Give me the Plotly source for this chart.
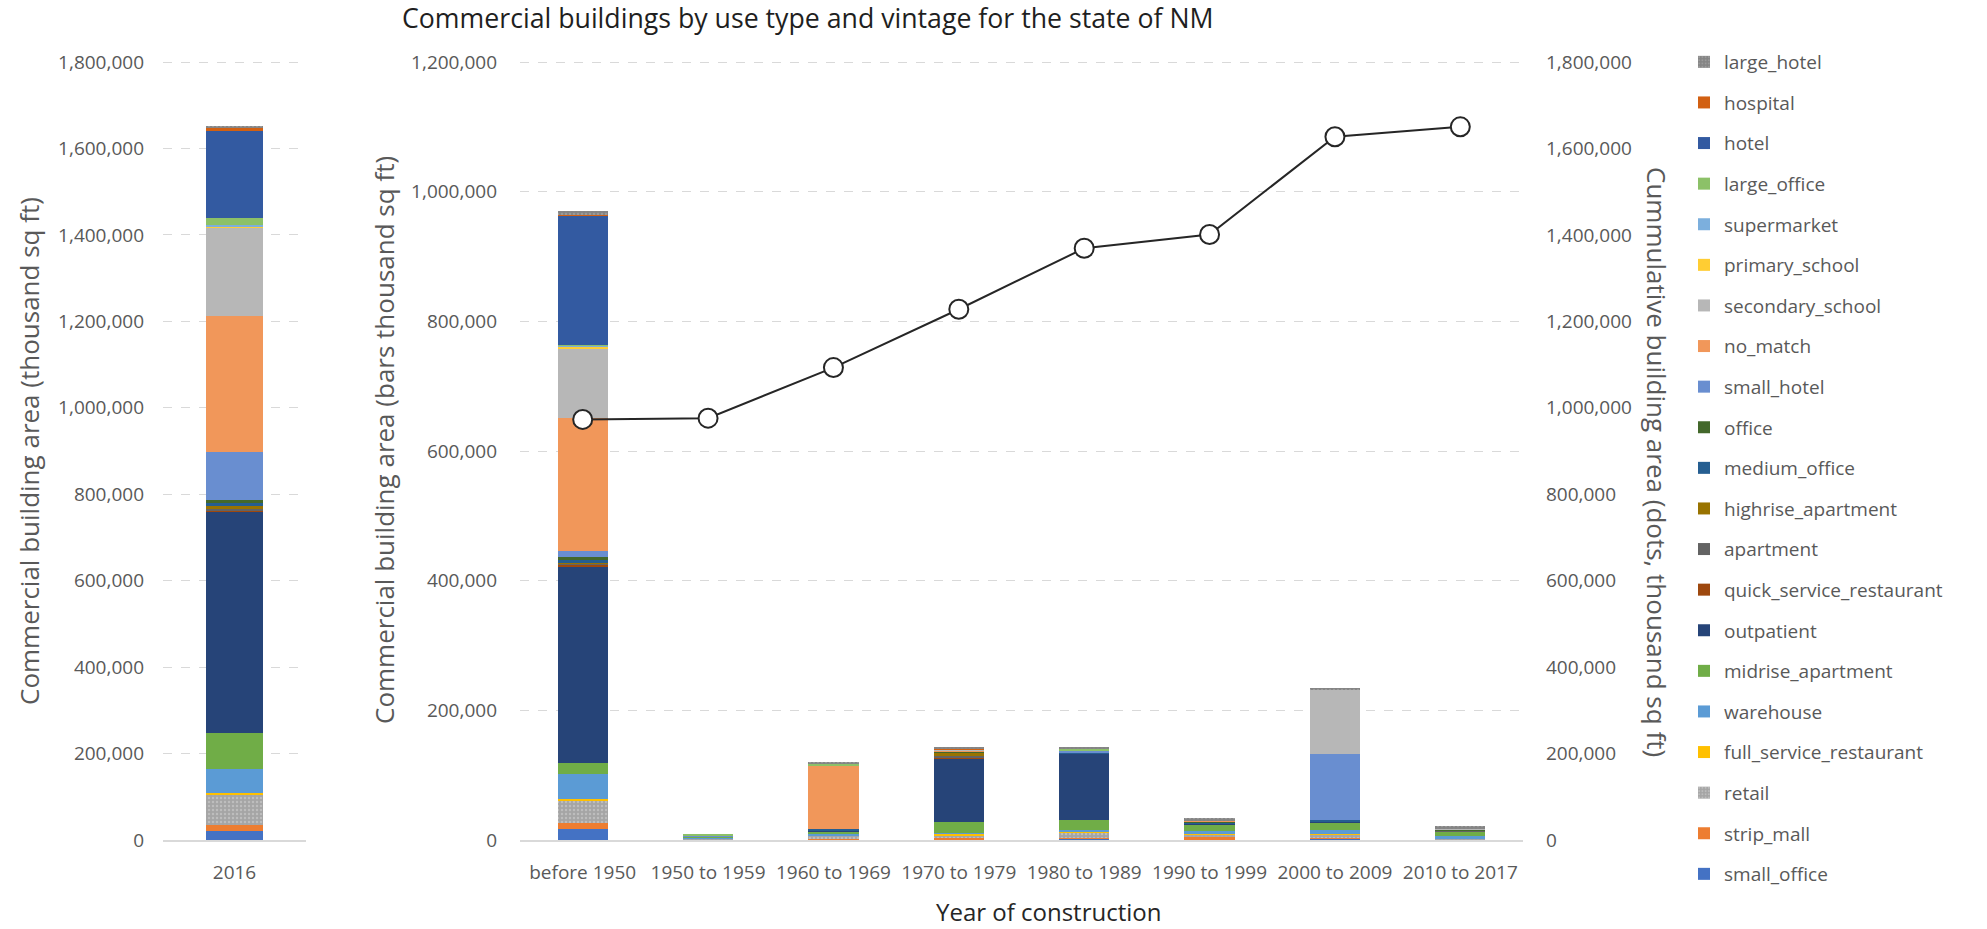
import plotly.graph_objects as go

# Construction vintages (x categories of the main panel)
vintages = ["before 1950", "1950 to 1959", "1960 to 1969", "1970 to 1979",
            "1980 to 1989", "1990 to 1999", "2000 to 2009", "2010 to 2017"]

# Floor area by use type and vintage (thousand sq ft), stacking order bottom -> top
small_office = [16500, 500, 0, 500, 3000, 500, 3000, 1000]
strip_mall = [9000, 0, 1000, 4000, 500, 5000, 500, 0]
retail = [35000, 2000, 6000, 2500, 8500, 2500, 5000, 2000]
full_service_restaurant = [3000, 0, 500, 3000, 500, 500, 500, 0]
warehouse = [38000, 1000, 3000, 1000, 3000, 5500, 6000, 3000]
midrise_apartment = [17000, 1500, 2500, 17000, 15000, 10000, 12000, 6500]
outpatient = [304000, 0, 2000, 98000, 103000, 1500, 2000, 1000]
quick_service_restaurant = [3000, 0, 0, 2000, 0, 0, 0, 0]
apartment = [1000, 0, 0, 1500, 0, 0, 0, 500]
highrise_apartment = [1000, 0, 0, 5000, 0, 0, 0, 0]
medium_office = [5000, 0, 1500, 1000, 2000, 1000, 2000, 0]
office = [4000, 0, 0, 1000, 0, 2500, 0, 2500]
small_hotel = [9000, 2000, 0, 0, 2000, 0, 101000, 0]
no_match = [206000, 0, 99000, 1000, 0, 500, 0, 0]
secondary_school = [107000, 0, 0, 1500, 0, 0, 100000, 2000]
primary_school = [2000, 0, 0, 0, 0, 0, 0, 0]
supermarket = [2000, 0, 0, 0, 1000, 0, 0, 0]
large_office = [1000, 2000, 2000, 0, 3000, 0, 0, 0]
hotel = [200000, 0, 0, 0, 0, 0, 0, 0]
hospital = [1000, 0, 0, 2000, 0, 0, 0, 0]
large_hotel = [6000, 0, 3000, 1500, 2000, 4500, 3000, 3000]

# 2016 stock by use type (same order as above)
area_2016 = [20600, 13700, 71000, 3000, 55000, 84000, 512000, 4000, 3000, 6000,
             8000, 6000, 112000, 313000, 206000, 2000, 3000, 16000, 203000, 7000, 3000]

# Cumulative building area by vintage (right axis)
cumulative = [973000, 976000, 1093000, 1228000, 1369000, 1401000, 1627000, 1650000]

use_types = ["small_office", "strip_mall", "retail", "full_service_restaurant", "warehouse",
             "midrise_apartment", "outpatient", "quick_service_restaurant", "apartment",
             "highrise_apartment", "medium_office", "office", "small_hotel", "no_match",
             "secondary_school", "primary_school", "supermarket", "large_office", "hotel",
             "hospital", "large_hotel"]
type_values = [small_office, strip_mall, retail, full_service_restaurant, warehouse,
               midrise_apartment, outpatient, quick_service_restaurant, apartment,
               highrise_apartment, medium_office, office, small_hotel, no_match,
               secondary_school, primary_school, supermarket, large_office, hotel,
               hospital, large_hotel]
type_colors = ["#4472C4", "#ED7D31", "#A5A5A5", "#FFC000", "#5B9BD5", "#70AD47", "#264478",
               "#9E480E", "#636363", "#997300", "#255E91", "#43682B", "#698ED0", "#F1975A",
               "#B7B7B7", "#FFCD33", "#7CAFDD", "#8CC168", "#335AA1", "#D26012", "#848484"]
textured = {"retail": "#BDBDBD", "large_hotel": "#9A9A9A"}

FONT = "Open Sans"
TICK_GREY = "#595959"
GRID = "#D9D9D9"
W, H = 1987, 929

fig = go.Figure()

n_types = len(use_types)
for i, (name, vals, col, v16) in enumerate(zip(use_types, type_values, type_colors, area_2016)):
    marker = dict(color=col, line=dict(width=0))
    if name in textured:
        marker["pattern"] = dict(shape=".", fgcolor=textured[name], bgcolor=col,
                                 size=4, solidity=0.3)
    rank = n_types - i  # top of the stack listed first
    # 2016 stock panel
    fig.add_trace(go.Bar(x=["2016"], y=[v16], name=name, marker=marker,
                         xaxis="x", yaxis="y", legendgroup=name, legendrank=rank,
                         showlegend=False))
    # vintage panel
    fig.add_trace(go.Bar(x=vintages, y=vals, name=name, marker=marker,
                         xaxis="x2", yaxis="y2", legendgroup=name, legendrank=rank,
                         showlegend=True))

fig.add_trace(go.Scatter(
    x=vintages, y=cumulative, xaxis="x2", yaxis="y3", mode="lines+markers",
    line=dict(color="#262626", width=2),
    marker=dict(size=19, color="white", line=dict(color="#262626", width=2)),
    showlegend=False, name="cumulative"))

# plot area: value 0 at 840 px, top gridline at 62 px
y_bot = 1 - 840 / H
y_top = 1 - 60 / H
pad = (840 - 60) / (840 - 62)  # small headroom so the top gridline is drawn

tickfont = dict(family=FONT, size=19, color=TICK_GREY)
yaxis_common = dict(tickformat=",", dtick=200000, tick0=0, showgrid=True, gridcolor=GRID,
                    griddash="dash", gridwidth=1, zeroline=False, ticks="", showline=False,
                    tickfont=tickfont, automargin=False)
xaxis_common = dict(showline=True, linecolor=GRID, linewidth=1.5, ticks="",
                    tickfont=tickfont, showgrid=False, ticklabelstandoff=14,
                    automargin=False)

axis_title_font = dict(family=FONT, size=26, color=TICK_GREY)

fig.update_layout(
    template="none",
    width=W, height=H,
    margin=dict(l=0, r=0, t=0, b=0, autoexpand=False),
    paper_bgcolor="white", plot_bgcolor="white",
    barmode="stack", bargap=0.6,
    font=dict(family=FONT, color=TICK_GREY),
    xaxis=dict(domain=[163 / W, 306 / W], anchor="y", **xaxis_common),
    yaxis=dict(domain=[y_bot, y_top], range=[0, 1800000 * pad], anchor="x",
               ticklabelstandoff=18, **yaxis_common),
    xaxis2=dict(domain=[520 / W, 1523 / W], anchor="y2", **xaxis_common),
    yaxis2=dict(domain=[y_bot, y_top], range=[0, 1200000 * pad], anchor="x2",
                ticklabelstandoff=22, **yaxis_common),
    yaxis3=dict(overlaying="y2", side="right", anchor="x2", range=[0, 1800000 * pad],
                tickformat=",", dtick=200000, showgrid=False, zeroline=False, ticks="",
                showline=False, tickfont=tickfont, ticklabelstandoff=22, automargin=False),
    legend=dict(x=1684 / W, y=1 - 43 / H, xanchor="left", yanchor="top",
                traceorder="grouped", tracegroupgap=12.9,
                font=dict(family=FONT, size=19, color=TICK_GREY),
                bgcolor="rgba(0,0,0,0)", borderwidth=0),
    showlegend=True,
)

annotations = [
    dict(text="Commercial buildings by use type and vintage for the state of NM",
         x=808 / W, y=1 - 18 / H, font=dict(family=FONT, size=26.7, color="#1F1F1F")),
    dict(text="Commercial building area (thousand sq ft)", x=29 / W, y=1 - 451 / H,
         textangle=-90, font=axis_title_font),
    dict(text="Commercial building area (bars thousand sq ft)", x=384 / W, y=1 - 440 / H,
         textangle=-90, font=axis_title_font),
    dict(text="Cummulative building area (dots, thousand sq ft)", x=1657 / W, y=1 - 462 / H,
         textangle=90, font=axis_title_font),
    dict(text="Year of construction", x=1048 / W, y=1 - 911 / H,
         font=dict(family=FONT, size=24, color="#262626")),
]
for a in annotations:
    a.update(xref="paper", yref="paper", showarrow=False, xanchor="center", yanchor="middle")
fig.update_layout(annotations=annotations)

fig.write_html("out.html", config={"displayModeBar": False})
